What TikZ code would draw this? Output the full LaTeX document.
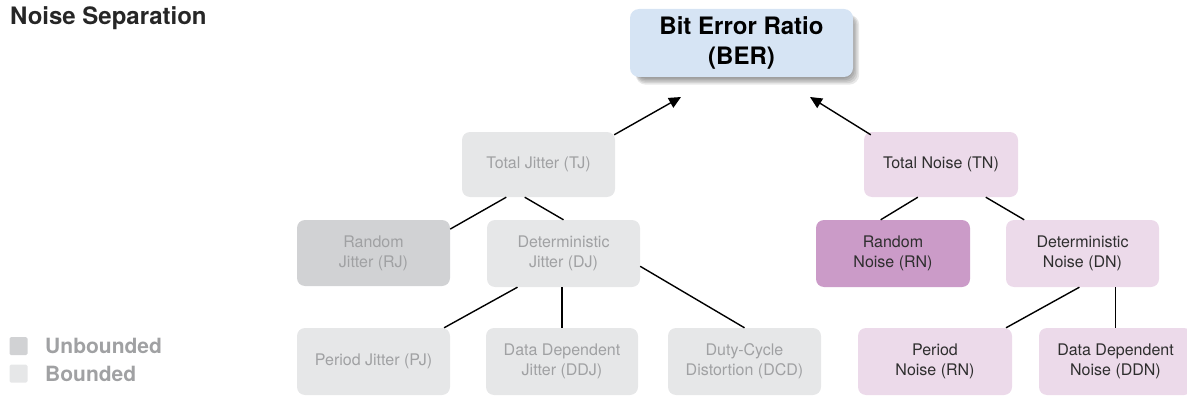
\documentclass[tikz,border=0pt]{standalone}
\usepackage{fontspec}
\setmainfont{TeX Gyre Heros}
\usetikzlibrary{arrows.meta,calc,backgrounds}
\definecolor{berfill}{HTML}{D6E4F4}
\definecolor{bndfill}{HTML}{E6E7E8}
\definecolor{unbfill}{HTML}{D1D2D4}
\definecolor{jtext}{HTML}{A0A1A3}
\definecolor{nfill}{HTML}{ECDAEA}
\definecolor{rnfill}{HTML}{CB9BC8}
\definecolor{ntext}{HTML}{2E2E2E}
\tikzset{
  box/.style={rounded corners=8pt, inner sep=0pt, align=center,
    minimum width=153pt, minimum height=66pt,
    font=\fontsize{16}{20}\selectfont},
  jbox/.style={box, fill=bndfill, text=jtext},
  ujbox/.style={box, fill=unbfill, text=jtext},
  nbox/.style={box, fill=nfill, text=ntext},
  rnbox/.style={box, fill=rnfill, text=ntext},
  berbox/.style={rounded corners=9pt, inner sep=0pt, align=center,
    minimum width=223pt, minimum height=68pt, fill=berfill,
    font=\bfseries\fontsize{24}{30}\selectfont},
  shadowlayer/.style={fill=black, opacity=0.09, rounded corners=10pt},
  conn/.style={line width=1.4pt, black},
  arr/.style={conn, -{Triangle[length=12pt,width=11pt]}},
  legsq/.style={inner sep=0pt, minimum width=18pt, minimum height=18pt, rounded corners=1.5pt},
  legtext/.style={anchor=west, inner sep=0pt, text=jtext, font=\bfseries\fontsize{21}{22}\selectfont},
}
\begin{document}
\begin{tikzpicture}[x=1pt,y=-1pt]
\useasboundingbox (0,0) rectangle (1187,396);
\clip (0,0) rectangle (1187,396);
% title
\node[anchor=west, inner sep=0pt, font=\bfseries\fontsize{24}{26}\selectfont, text=black!85] (title) at (10,18) {Noise Separation};
% top
\node[berbox] (BER) at (741.5,43) {Bit Error Ratio\\(BER)};
\begin{scope}[on background layer]
  \foreach \d in {0,1.5,3,4.5,6}{
    \fill[shadowlayer] ($(BER.north west)+(6,6)$) rectangle ($(BER.south east)+(\d,\d+1.5)$);
  }
\end{scope}
% jitter side
\node[jbox, minimum height=65pt] (TJ) at (538.5,164.5) {Total Jitter (TJ)};
\node[ujbox] (RJ) at (373.5,253) {Random\\Jitter (RJ)};
\node[jbox, minimum height=67pt] (DJ) at (563.5,253.5) {Deterministic\\Jitter (DJ)};
\node[jbox, minimum height=67pt] (PJ) at (373.5,361.5) {Period Jitter (PJ)};
\node[jbox, minimum height=67pt, minimum width=152pt] (DDJ) at (562,361.5) {Data Dependent\\Jitter (DDJ)};
\node[jbox, minimum height=67pt] (DCD) at (744.5,361.5) {Duty-Cycle\\Distortion (DCD)};
% noise side
\node[nbox, minimum height=65pt, minimum width=154pt] (TN) at (941,164.5) {Total Noise (TN)};
\node[rnbox, minimum height=67pt, minimum width=154pt] (RN) at (893,253.5) {Random\\Noise (RN)};
\node[nbox, minimum height=67pt] (DN) at (1082.5,253.5) {Deterministic\\Noise (DN)};
\node[nbox, minimum height=67pt, minimum width=154pt] (PN) at (935,361.5) {Period\\Noise (RN)};
\node[nbox, minimum height=67pt] (DDN) at (1115.5,361.5) {Data Dependent\\Noise (DDN)};
% arrow tips
\coordinate (tjA) at (681,97);
\coordinate (tnA) at (810,97);
\draw[arr] ($(TJ.north east)+(-1,3)$) -- (tjA);
\draw[arr] ($(TN.north west)+(7,3)$) -- (tnA);
% connectors
\draw[conn] ($(TJ.south west)!0.29!(TJ.south east)$) -- ($(RJ.north east)!0.14!(RJ.south east)$);
\draw[conn] ($(TJ.south west)!0.41!(TJ.south east)$) -- (DJ.north);
\draw[conn] ($(DJ.south west)!0.2!(DJ.south east)$) -- ($(PJ.north west)!0.96!(PJ.north east)$);
\draw[conn] (DJ.south -| DDJ.north) -- (DDJ.north);
\draw[conn] ($(DJ.north east)!0.69!(DJ.south east)$) -- (DCD.north);
\draw[conn] ($(TN.south west)!0.35!(TN.south east)$) -- ($(RN.north west)!0.42!(RN.north east)$);
\draw[conn] ($(TN.south west)!0.79!(TN.south east)$) -- ($(DN.north west)!0.12!(DN.north east)$);
\draw[conn] ($(DN.south west)!0.48!(DN.south east)$) -- ($(PN.north west)!0.96!(PN.north east)$);
\draw[conn] (DN.south -| DDN.north) -- (DDN.north);
% legend
\node[legsq, fill=unbfill] (lu) at (18.5,346) {};
\node[legsq, fill=bndfill] (lb) at (18.5,373.5) {};
\node[legtext] (lut) at (45,346) {Unbounded};
\node[legtext] (lbt) at (45,374) {Bounded};
\end{tikzpicture}
\end{document}
